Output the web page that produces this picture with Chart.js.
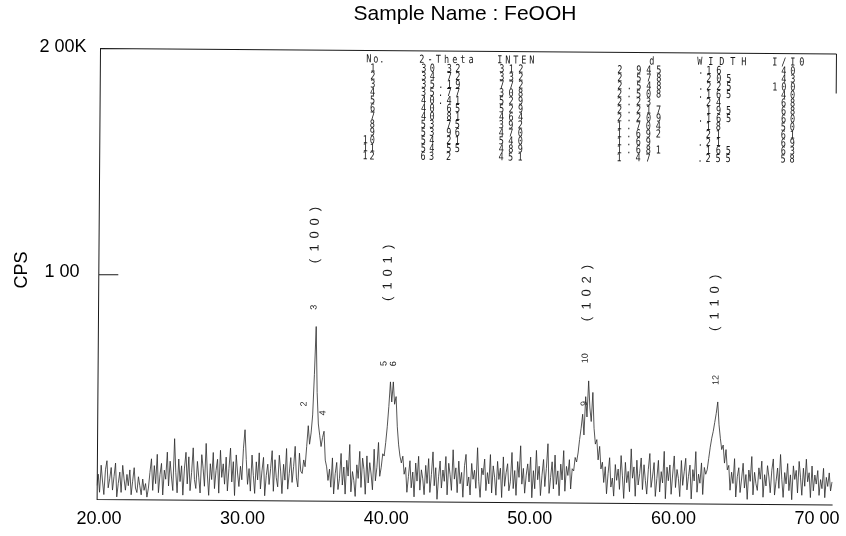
<!DOCTYPE html>
<html>
<head>
<meta charset="utf-8">
<script src="https://cdn.jsdelivr.net/npm/chart.js@4/dist/chart.umd.min.js"></script>
<style>
  html, body { margin: 0; padding: 0; background: #fff; }
  #wrap { width: 846px; height: 536px; }
</style>
</head>
<body>
<div id="wrap"><canvas id="xrd" width="846" height="536"></canvas></div>
<script>
// Scan grid (degrees 2-theta) and counts per second at each step
const twoThetaStart = 20.0;
const twoThetaStep = 0.1;
const cps = [
  60, 110, 30, 150, 80, 20, 130, 170, 50, 90,      // 20
  140, 40, 100, 160, 10, 70, 120, 30, 150, 90,     // 21
  40, 110, 60, 130, 20, 80, 140, 50, 30, 100,      // 22
  60, 20, 90, 40, 70, 10, 50, 120, 180, 40,        // 23
  150, 70, 200, 30, 110, 160, 20, 130, 90, 210,    // 24
  60, 170, 100, 40, 270, 120, 30, 180, 80, 150,    // 25
  20, 140, 210, 70, 190, 40, 120, 230, 90, 50,     // 26
  170, 100, 30, 200, 140, 60, 250, 110, 20, 160,   // 27
  90, 210, 50, 130, 180, 30, 220, 100, 160, 70,    // 28
  190, 40, 140, 230, 80, 170, 20, 200, 120, 60,    // 29
  150, 90, 230, 312, 180, 70, 140, 40, 200, 110,   // 30
  30, 170, 90, 210, 50, 130, 190, 20, 110, 160,    // 31
  70, 140, 220, 40, 180, 100, 60, 200, 130, 30,    // 32
  160, 90, 230, 50, 120, 190, 80, 150, 240, 100,   // 33
  60, 210, 130, 120, 180, 150, 240, 332, 250, 300, // 34
  380, 560, 772, 480, 340, 290, 240, 280, 308, 180,// 35
  150, 90, 140, 60, 190, 30, 120, 170, 50, 100,    // 36
  210, 70, 150, 30, 180, 110, 250, 40, 130, 90,    // 37
  20, 160, 100, 220, 60, 190, 140, 30, 200, 80,    // 38
  170, 120, 50, 230, 90, 150, 260, 110, 150, 210,  // 39
  200, 260, 330, 420, 529, 440, 529, 430, 464, 330,// 40
  250, 200, 170, 200, 120, 150, 40, 110, 180, 60,  // 41
  130, 20, 170, 90, 200, 50, 140, 100, 30, 160,    // 42
  80, 190, 40, 120, 220, 70, 150, 10, 110, 180,    // 43
  60, 140, 90, 200, 30, 170, 120, 50, 230, 100,    // 44
  150, 40, 180, 80, 130, 20, 160, 210, 70, 110,    // 45
  30, 170, 100, 140, 60, 240, 90, 20, 150, 120,    // 46
  190, 50, 130, 80, 210, 40, 160, 110, 30, 180,    // 47
  100, 150, 20, 200, 70, 130, 170, 50, 90, 220,    // 48
  60, 140, 30, 180, 110, 250, 80, 150, 40, 120,    // 49
  170, 90, 200, 20, 140, 60, 230, 100, 160, 30,    // 50
  120, 190, 70, 150, 260, 40, 110, 180, 60, 210,   // 51
  80, 140, 30, 170, 100, 230, 50, 160, 120, 190,   // 52
  60, 150, 140, 200, 180, 220, 280, 330, 392, 300, // 53
  470, 380, 540, 420, 360, 489, 330, 260, 280, 190,// 54
  250, 150, 180, 90, 160, 40, 130, 200, 70, 110,   // 55
  30, 170, 100, 150, 60, 210, 120, 20, 180, 90,    // 56
  140, 50, 240, 110, 160, 30, 190, 80, 130, 200,   // 57
  60, 170, 100, 40, 150, 220, 70, 120, 180, 30,    // 58
  110, 190, 50, 140, 90, 230, 20, 160, 100, 170,   // 59
  40, 130, 210, 70, 150, 110, 30, 190, 80, 140,    // 60
  200, 60, 120, 170, 20, 150, 100, 230, 50, 130,   // 61
  90, 180, 40, 160, 130, 150, 200, 250, 290, 320,  // 62
  360, 400, 451, 350, 290, 240, 260, 180, 240, 150,// 63
  170, 60, 140, 90, 200, 30, 120, 160, 50, 110,    // 64
  180, 70, 130, 20, 150, 100, 210, 40, 140, 90,    // 65
  60, 160, 110, 190, 30, 130, 80, 170, 120, 50,    // 66
  150, 200, 40, 100, 160, 70, 220, 110, 30, 140,   // 67
  90, 180, 60, 130, 20, 170, 110, 150, 50, 190,    // 68
  120, 40, 160, 80, 200, 100, 140, 30, 170, 60,    // 69
  130, 90, 150, 40, 110, 70, 160, 30, 120, 80,     // 70
  140, 60, 100                                     // 71
];

// Axis ticks
const xTickValues = [20, 30, 40, 50, 60, 70];
const xTickLabels = ['20.00', '30.00', '40.00', '50.00', '60.00', '70 00'];
const yTickValues = [1000, 2000];
const yTickLabels = ['1 00', '2 00K'];

// Peak search table, as printed
const peakNo    = ['1', '2', '3', '4', '5', '6', '7', '8', '9', '10', '11', '12'];
const peakTheta = ['30 32', '34 72', '35.19', '35.77', '40.41', '40 65', '40 81', '53 75', '53 96', '54 21', '54 55', '63 2'];
const peakInten = ['312', '332', '772', '308', '529', '529', '464', '392', '470', '540', '489', '451'];
const peakD     = ['2 945', '2 578', '2.548', '2.508', '2.23', '2.217', '2.209', '1.704', '1.692', '1.69', '1.681', '1 47'];
const peakWidth = ['.16', ' 205', '.225', '.165', ' 24', ' 195', '.165', ' 18', ' 21', '.21', ' 165', '.255'];
const peakRel   = ['40', '43', '100', '40', '68', '68', '60', '50', '61', '69', '63', '58'];

// Reflection indices and where they are written (2-theta, CPS)
const hklText  = ['(100)', '(101)', '(102)', '(110)'];
const hklTheta = [35.07, 40.18, 54.04, 62.96];
const hklCps   = [1178, 1013, 930, 890];

// Peak numbers written beside the profile (2-theta, CPS)
const markText  = ['2', '3', '4', '5', '6', '10', '9', '12'];
const markTheta = [34.39, 35.04, 35.72, 39.95, 40.6, 53.95, 53.9, 63.07];
const markCps   = [428, 858, 389, 610, 610, 640, 440, 548];

const points = cps.map((v, i) => ({ x: +(twoThetaStart + i * twoThetaStep).toFixed(2), y: v }));

const SKEW = 0.0075; // plotter sheet sits slightly rotated
const INK = '#1a1a1a';

function tableChar(ctx, ch, cx, cy) {
  ctx.save();
  ctx.translate(cx, cy);
  ctx.scale(0.85, 1.1);
  ctx.fillText(ch, 0, 0);
  ctx.restore();
}

// Draws a string one cell at a time; dots and blanks take their own cell width
function tableText(ctx, str, x, y, pitch, gapPitch, alignRight) {
  const pos = [];
  let p = 0;
  for (let i = 0; i < str.length; i++) {
    if (i > 0) {
      const a = str[i - 1], b = str[i];
      const narrow = a === '.' || a === ' ' || b === '.' || b === ' ';
      p += narrow ? gapPitch : pitch;
    }
    pos.push(p);
  }
  const shift = alignRight ? x - pos[pos.length - 1] : x;
  for (let i = 0; i < str.length; i++) {
    if (str[i] !== ' ') tableChar(ctx, str[i], shift + pos[i], y);
  }
}

function drawSheet(chart) {
  const { ctx, chartArea: a, scales } = chart;
  const L = a.left, T = a.top, R = a.right, B = a.bottom;
  ctx.save();
  ctx.strokeStyle = INK;
  ctx.lineWidth = 1;
  ctx.beginPath();
  ctx.moveTo(L + 0.5, B + 0.5); ctx.lineTo(L + 0.5, T + 0.5); ctx.lineTo(R + 0.5, T + 0.5);
  ctx.moveTo(R + 0.5, T + 0.5); ctx.lineTo(R + 0.5, T + 40);
  ctx.moveTo(L, B + 0.5); ctx.lineTo(R, B + 0.5);
  const yk = Math.round(scales.y.getPixelForValue(yTickValues[0])) + 0.5;
  ctx.moveTo(L, yk); ctx.lineTo(L + 20, yk);
  ctx.stroke();

  // peak table
  ctx.fillStyle = INK;
  ctx.font = '10px "DejaVu Sans Mono"';
  ctx.textAlign = 'center';
  ctx.textBaseline = 'middle';
  const hy = 57.5;
  tableText(ctx, 'No.', 369, hy, 7, 6, false);
  tableText(ctx, '2-Theta', 422, hy, 8.2, 8.2, false);
  tableText(ctx, 'INTEN', 500, hy, 8, 8, false);
  tableText(ctx, 'd', 652, hy, 10, 10, false);
  tableText(ctx, 'WIDTH', 700, hy, 11, 11, false);
  tableText(ctx, 'I/I0', 775, hy, 9, 9, false);
  for (let i = 0; i < peakNo.length; i++) {
    const y = 66.5 + i * 8.0;
    tableText(ctx, peakNo[i], 373, y, 7, 7, true);
    tableText(ctx, peakTheta[i], 424, y, 8.5, 8.5, false);
    tableText(ctx, peakInten[i], 502, y, 9.5, 9.5, false);
    tableText(ctx, peakD[i], 620, y, 10, 9.5, false);
    tableText(ctx, peakWidth[i], 701, y, 10, 8, false);
    tableText(ctx, peakRel[i], 793, y, 9, 9, true);
  }

  // reflection indices, written along the vertical
  ctx.font = '13px "Liberation Sans"';
  for (let k = 0; k < hklText.length; k++) {
    const cx = scales.x.getPixelForValue(hklTheta[k]);
    const cy = scales.y.getPixelForValue(hklCps[k]);
    ctx.save();
    ctx.translate(cx, cy);
    ctx.rotate(-Math.PI / 2);
    const s = hklText[k];
    const pitch = 13;
    for (let j = 0; j < s.length; j++) {
      ctx.fillText(s[j], (j - (s.length - 1) / 2) * pitch, 0);
    }
    ctx.restore();
  }

  // peak numbers
  ctx.font = '9px "Liberation Sans"';
  for (let k = 0; k < markText.length; k++) {
    const cx = scales.x.getPixelForValue(markTheta[k]);
    const cy = scales.y.getPixelForValue(markCps[k]);
    ctx.save();
    ctx.translate(cx, cy);
    ctx.rotate(-Math.PI / 2);
    ctx.fillText(markText[k], 0, 0);
    ctx.restore();
  }
  ctx.restore();
}

function drawAxisText(chart) {
  const { ctx, scales } = chart;
  ctx.save();
  ctx.fillStyle = '#000';
  ctx.textAlign = 'center';
  ctx.textBaseline = 'middle';
  ctx.font = '21px "Liberation Sans"';
  ctx.fillText('Sample Name : FeOOH', 465, 14);

  ctx.font = '18px "Liberation Sans"';
  for (let i = 0; i < xTickValues.length; i++) {
    ctx.fillText(xTickLabels[i], scales.x.getPixelForValue(xTickValues[i]) - 1, 519);
  }
  ctx.fillText(yTickLabels[1], 63, 47);
  ctx.fillText(yTickLabels[0], 62, 272);

  ctx.save();
  ctx.translate(22, 270);
  ctx.rotate(-Math.PI / 2);
  ctx.fillText('CPS', 0, 0);
  ctx.restore();
  ctx.restore();
}

const sheetPlugin = {
  id: 'sheet',
  beforeDatasetsDraw(chart) {
    const { ctx, chartArea: a } = chart;
    ctx.save();
    ctx.translate(a.left, a.top);
    ctx.rotate(SKEW);
    ctx.translate(-a.left, -a.top);
  },
  afterDatasetsDraw(chart) {
    drawSheet(chart);
    chart.ctx.restore();
  },
  afterDraw(chart) {
    drawAxisText(chart);
  }
};

new Chart(document.getElementById('xrd'), {
  type: 'line',
  data: {
    datasets: [{
      data: points,
      borderColor: '#2a2a2a',
      borderWidth: 0.8,
      pointRadius: 0,
      tension: 0,
      fill: false
    }]
  },
  options: {
    responsive: false,
    animation: false,
    devicePixelRatio: 1,
    layout: { padding: { left: 100, top: 48, right: 10, bottom: 37 } },
    scales: {
      x: { type: 'linear', min: 20, max: 71.25, display: false },
      y: { type: 'linear', min: 0, max: 2000, display: false }
    },
    plugins: {
      legend: { display: false },
      tooltip: { enabled: false },
      title: { display: false }
    }
  },
  plugins: [sheetPlugin]
});
</script>
</body>
</html>
